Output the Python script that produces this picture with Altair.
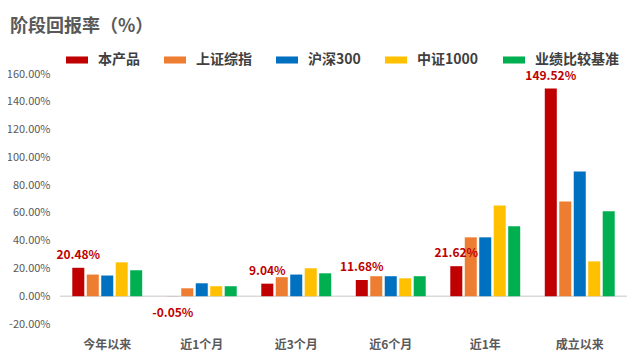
import altair as alt
import pandas as pd

categories = ["今年以来", "近1个月", "近3个月", "近6个月", "近1年", "成立以来"]
series = ["本产品", "上证综指", "沪深300", "中证1000", "业绩比较基准"]
colors = ["#C00000", "#ED7D31", "#0070C0", "#FFC000", "#00B050"]
y_ticks = [-20, 0, 20, 40, 60, 80, 100, 120, 140, 160]

v_product = [20.48, -0.05, 9.04, 11.68, 21.62, 149.52]
v_sh = [15.6, 5.7, 13.7, 14.4, 42.4, 68.2]
v_hs300 = [14.9, 9.3, 15.6, 14.4, 42.4, 89.8]
v_zz1000 = [24.4, 7.2, 20.1, 12.9, 65.4, 25.1]
v_bench = [18.7, 7.2, 16.5, 14.4, 50.3, 61.1]

all_vals = [v_product, v_sh, v_hs300, v_zz1000, v_bench]
rows = []
for s, vals in zip(series, all_vals):
    for c, v in zip(categories, vals):
        rows.append({"cat": c, "series": s, "value": v})
df = pd.DataFrame(rows)

FONT = "Noto Sans CJK SC"

x_enc = alt.X("cat:N", sort=categories, title=None,
              scale=alt.Scale(paddingInner=0.26, paddingOuter=0.13),
              axis=alt.Axis(labelAngle=0, domain=False, ticks=False, labelPadding=15,
                            labelFontSize=12, labelFontWeight="bold", labelColor="#595959",
                            labelFont=FONT))
xoff_enc = alt.XOffset("series:N", sort=series,
                       scale=alt.Scale(domain=series, paddingInner=0.17, paddingOuter=0))
y_axis = alt.Axis(values=y_ticks, grid=False, domain=False, ticks=False,
                  labelOverlap=False,
                  labelExpr="replace(format(datum.value/100, '.2%'), '\u2212', '-')",
                  labelFontSize=11, labelColor="#595959", labelFont=FONT, labelPadding=10)
y_scale = alt.Scale(domain=[-20, 160], nice=False)
y_enc = alt.Y("value:Q", scale=y_scale, title=None, axis=y_axis)

bars = alt.Chart(df).mark_bar().encode(
    x=x_enc,
    xOffset=xoff_enc,
    y=y_enc,
    color=alt.Color("series:N", sort=series,
                    scale=alt.Scale(domain=series, range=colors),
                    legend=alt.Legend(title=None, orient="none", legendX=6, legendY=-25,
                                      direction="horizontal", columns=5,
                                      symbolType="M-1,-0.32L1,-0.32L1,0.32L-1,0.32Z",
                                      symbolSize=484, symbolStrokeWidth=0,
                                      labelFontSize=14, labelFontWeight="bold",
                                      labelColor="#404040", labelFont=FONT,
                                      columnPadding=24, labelOffset=10)),
)

zero = alt.Chart(pd.DataFrame({"value": [0]})).mark_rule(color="#D9D9D9", strokeWidth=1.5).encode(
    y=y_enc
)

lbl_expr = "replace(format(datum.value, '.2f'), '\u2212', '-') + '%'"
prod = df[df["series"] == "本产品"]
pos = alt.Chart(prod[prod["value"] >= 0]).mark_text(
    color="#C00000", fontWeight="bold", fontSize=12, font=FONT, dy=-13
).transform_calculate(lbl=lbl_expr).encode(
    x=alt.X("cat:N", sort=categories),
    xOffset=alt.XOffset("series:N", sort=series),
    y=y_enc,
    text="lbl:N",
)
neg = alt.Chart(prod[prod["value"] < 0]).mark_text(
    color="#C00000", fontWeight="bold", fontSize=12, font=FONT, dy=17
).transform_calculate(lbl=lbl_expr).encode(
    x=alt.X("cat:N", sort=categories),
    xOffset=alt.XOffset("series:N", sort=series),
    y=y_enc,
    text="lbl:N",
)

chart = alt.layer(zero, bars, pos, neg).properties(
    width=567, height=250,
    autosize=alt.AutoSizeParams(type="none"),
    padding={"left": 52, "top": 66, "right": 5, "bottom": 29},
    title=alt.TitleParams("阶段回报率（%）", anchor="start", frame="group", dx=-50, offset=13,
                          fontSize=18, fontWeight="bold", color="#595959", font=FONT),
).configure_view(stroke=None)

chart.save("out.html", embed_options={"renderer": "svg", "actions": False})
